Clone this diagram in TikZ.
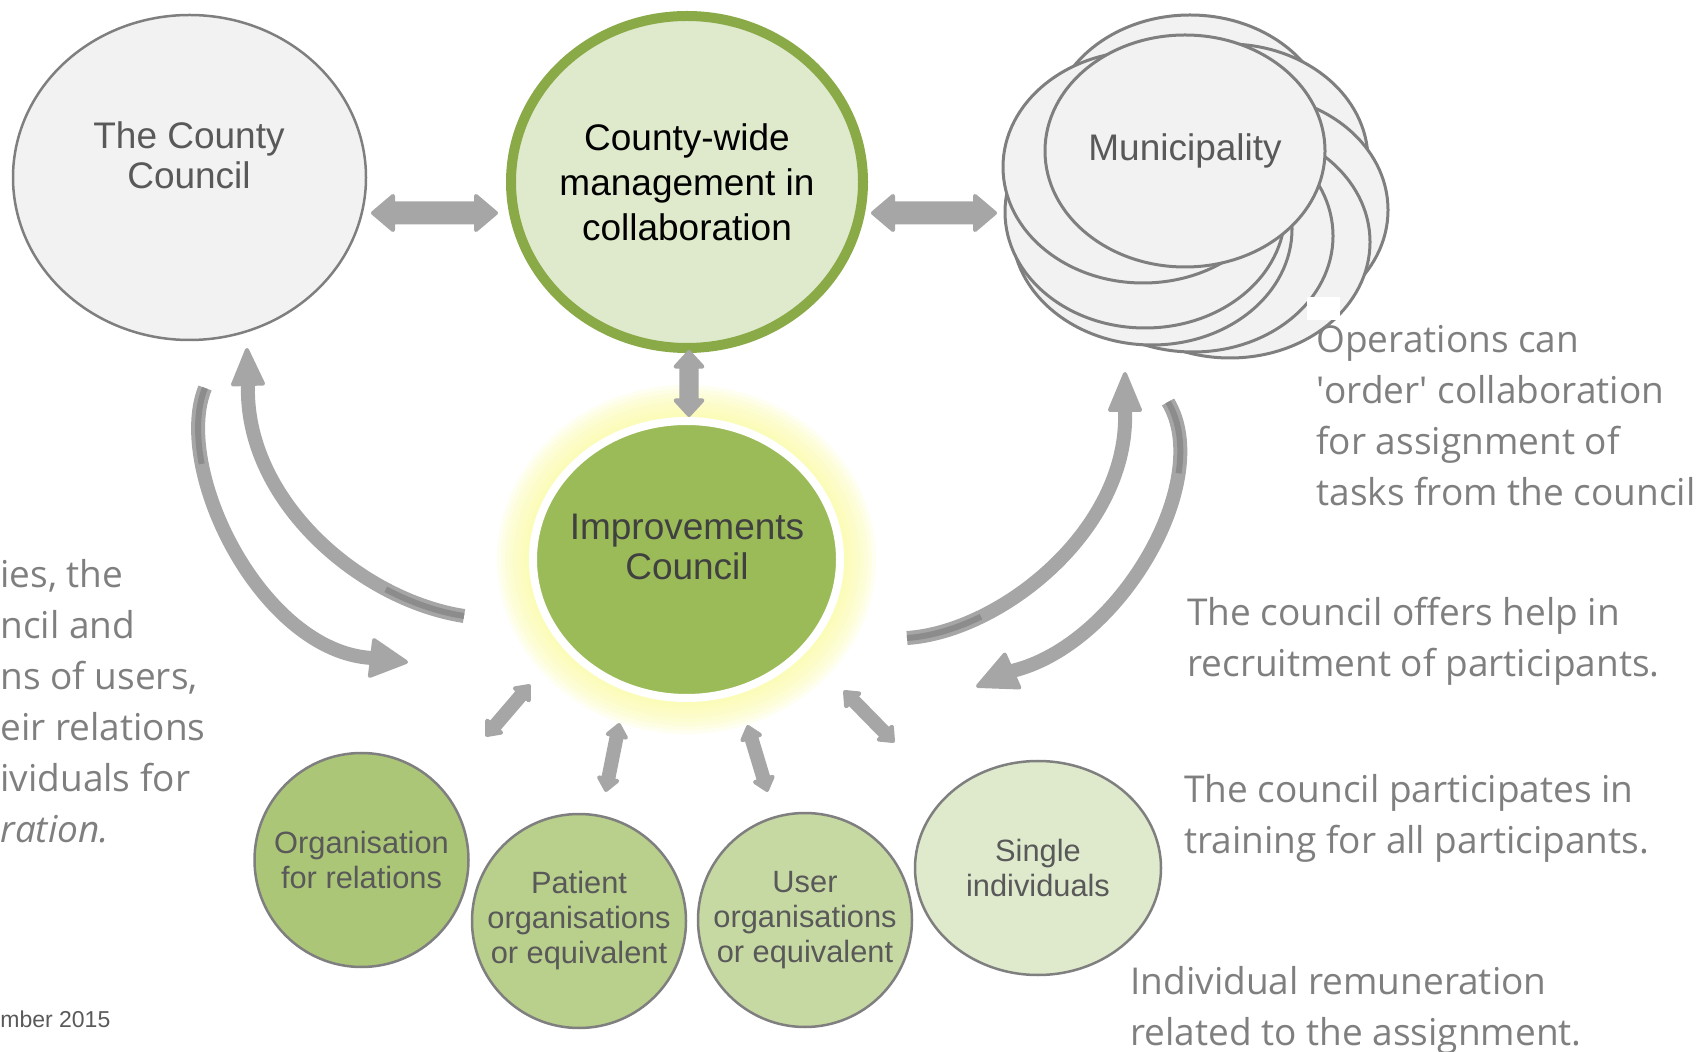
\documentclass[tikz,border=0pt]{standalone}
\usepackage{fontspec}
\setmainfont{Liberation Sans}
\newfontfamily\notefont{Open Sans}
\usetikzlibrary{calc,shapes.geometric}

\definecolor{arrowgray}{RGB}{166,166,166}
\definecolor{arrowdark}{RGB}{140,140,140}
\definecolor{bodygray}{RGB}{242,242,242}
\definecolor{linegray}{RGB}{127,127,127}
\definecolor{labelgray}{RGB}{89,89,89}
\definecolor{notegray}{RGB}{127,127,127}
\definecolor{imprtextcol}{RGB}{64,64,64}
\definecolor{mgmtfill}{RGB}{223,234,205}
\definecolor{mgmtline}{RGB}{138,170,72}
\definecolor{imprfill}{RGB}{155,187,89}
\definecolor{glowcol}{RGB}{250,250,160}
\definecolor{orgfill}{RGB}{172,198,120}
\definecolor{patfill}{RGB}{185,207,140}
\definecolor{userfill}{RGB}{199,217,163}
\definecolor{singlefill}{RGB}{223,234,205}

\tikzset{
  body/.style={ellipse, draw=linegray, line width=1.25pt, fill=bodygray, inner sep=0pt},
  cloudpart/.style={draw=linegray, line width=1.5pt, fill=bodygray},
  bigtext/.style={inner sep=0pt, align=center, text=labelgray, font=\fontsize{18.5}{20}\selectfont},
  smallcirc/.style={draw=linegray, line width=1.25pt, inner sep=0pt, align=center, text=labelgray, font=\fontsize{15.4}{17.5}\selectfont},
  note/.style={inner sep=0pt, align=left, text=notegray, font=\notefont\fontsize{18.5}{25.5}\selectfont},
  blockarrow/.style={fill=arrowgray, draw=arrowgray, line width=2pt, line join=round},
  bendarrow/.style={draw=arrowgray, line width=7pt},
  bendback/.style={draw=arrowdark, line width=3pt},
}

% double block arrow: ends, head length, shaft half width, head half width
\newcommand{\dblarrow}[5]{%
  \filldraw[blockarrow] (#1) -- ($(#1)!#3!(#2)!#5!90:(#2)$) -- ($(#1)!#3!(#2)!#4!90:(#2)$)
    -- ($(#2)!#3!(#1)!#4!-90:(#1)$) -- ($(#2)!#3!(#1)!#5!-90:(#1)$) -- (#2)
    -- ($(#2)!#3!(#1)!#5!90:(#1)$) -- ($(#2)!#3!(#1)!#4!90:(#1)$)
    -- ($(#1)!#3!(#2)!#4!-90:(#2)$) -- ($(#1)!#3!(#2)!#5!-90:(#2)$) -- cycle;}
% head of a bent arrow: base centre, tip, half width
\newcommand{\bendhead}[3]{%
  \filldraw[blockarrow] ($(#1)!#3!90:(#2)$) -- (#2) -- ($(#1)!#3!-90:(#2)$) -- cycle;}

\begin{document}
\begin{tikzpicture}[x=0.5pt,y=0.5pt,yscale=-1,xscale=1]
\useasboundingbox (0,0) rectangle (1697,1052);

%County council
\node[body, minimum width=176.5pt, minimum height=162.5pt] (county) at (189.5,177.5) {};
\node[bigtext] (countytext) at (189,155) {The County\\Council};

%Management
\node[ellipse, draw=mgmtline, line width=5pt, fill=mgmtfill, inner sep=0pt, minimum width=176pt, minimum height=166pt] (mgmt) at (687,182) {};
\node[bigtext, text=black, font=\fontsize{18.5}{22.5}\selectfont] (mgmttext) at (687,182) {County-wide\\management in\\collaboration};

%Municipality, stacked ellipses
\foreach \cx/\cy in {1190/131, 1228/160, 1248/210, 1230/242, 1193/236, 1152/229, 1145/212, 1143/167}
  \draw[cloudpart] (\cx,\cy) ellipse (140 and 116);
\node[body, line width=1.5pt, minimum width=140pt, minimum height=116pt, text=labelgray, font=\fontsize{18.5}{20}\selectfont] (muni) at (1185,151) {Municipality};

%Improvements council with glow
\coordinate (imprc) at (686.5,559.5);
\foreach \g in {1,...,8}
  \fill[glowcol, opacity=0.15] (imprc) ellipse ({157.5+4*\g} and {142.5+4*\g});
\node[ellipse, draw=white, line width=4pt, fill=imprfill, inner sep=0pt, minimum width=153.5pt, minimum height=138.5pt] (impr) at (imprc) {};
\node[bigtext, text=imprtextcol] (imprtext) at (687,547) {Improvements\\Council};

%Bottom groups
\node[smallcirc, circle, fill=orgfill, minimum size=107pt] (org) at (361.5,860) {Organisation\\for relations};
\node[smallcirc, circle, fill=patfill, minimum size=107pt] (patient) at (579,921) {Patient\\organisations\\or equivalent};
\node[smallcirc, circle, fill=userfill, minimum size=107pt] (user) at (805,920) {User\\organisations\\or equivalent};
\node[smallcirc, ellipse, fill=singlefill, minimum width=123pt, minimum height=107pt] (single) at (1038,868) {Single\\individuals};

%Straight arrows
\coordinate (hl1) at (373,213); \coordinate (hl2) at (496,213);
\coordinate (hr1) at (873,213); \coordinate (hr2) at (995,213);
\coordinate (v1) at (689,352); \coordinate (v2) at (689,415);
\dblarrow{hl1}{hl2}{10pt}{4.75pt}{8.5pt}
\dblarrow{hr1}{hr2}{10pt}{4.75pt}{8.5pt}
\dblarrow{v1}{v2}{7.3pt}{3.8pt}{6.7pt}

\coordinate (s1a) at (487,735); \coordinate (s1b) at (529,686);
\coordinate (s2a) at (606,790); \coordinate (s2b) at (619,725);
\coordinate (s3a) at (748,727); \coordinate (s3b) at (767,790);
\coordinate (s4a) at (845,692); \coordinate (s4b) at (893,741);
\dblarrow{s1a}{s1b}{5.5pt}{2.5pt}{4.6pt}
\dblarrow{s2a}{s2b}{5.5pt}{2.5pt}{4.6pt}
\dblarrow{s3a}{s3b}{5.5pt}{2.5pt}{4.6pt}
\dblarrow{s4a}{s4b}{5.5pt}{2.5pt}{4.6pt}

%Bent arrows, left
\coordinate (lo0) at (205,388); \coordinate (lo1) at (372,658); \coordinate (lo2) at (406,662);
\draw[bendarrow] (lo0) .. controls (172,470) and (262,652) .. (lo1);
\draw[bendback] (lo0) .. controls (196.75,408.5) and (196.2,435.25) .. (201.7,463.9);
\bendhead{lo1}{lo2}{9pt}
\coordinate (li0) at (464,616); \coordinate (li1) at (248,384); \coordinate (li2) at (247,350);
\draw[bendarrow] (li0) .. controls (360,600) and (244,500) .. (li1);
\draw[bendback] (li0) .. controls (438,612) and (411.25,602.75) .. (385.8,589.3);
\bendhead{li1}{li2}{7.5pt}

%Bent arrows, right
\coordinate (ro0) at (1168,402); \coordinate (ro1) at (1012,671); \coordinate (ro2) at (978,686);
\draw[bendarrow] (ro0) .. controls (1215,480) and (1120,645) .. (ro1);
\draw[bendback] (ro0) .. controls (1179.75,421.5) and (1182.6,446.4) .. (1178.6,473.3);
\bendhead{ro1}{ro2}{9pt}
\coordinate (ri0) at (907,638); \coordinate (ri1) at (1125,410); \coordinate (ri2) at (1125,374);
\draw[bendarrow] (ri0) .. controls (1000,632) and (1130,530) .. (ri1);
\draw[bendback] (ri0) .. controls (930.25,636.5) and (955.8,629) .. (981,616.7);
\bendhead{ri1}{ri2}{7.5pt}

%Notes
\fill[white] (1307,297) rectangle (1340,320);
\node[note, anchor=base west] (opsnote) at (1316,506) {Operations can\\\textquotesingle order\textquotesingle{} collaboration\\for assignment of\\tasks from the council};
\node[note, anchor=base west] (recruitnote) at (1187,677) {The council offers help in\\recruitment of participants.};
\node[note, anchor=base west] (trainnote) at (1184,853) {The council participates in\\training for all participants.};
\node[note, anchor=base west] (paynote) at (1130,1045) {Individual remuneration\\related to the assignment.};
\node[note, anchor=base west] (leftnote) at (0,842) {ies, the\\ncil and\\ns of users,\\eir relations\\ividuals for\\\textit{ration.}};
\node[inner sep=0pt, anchor=base west, text=labelgray, font=\fontsize{11.5}{13}\selectfont] (datenote) at (0,1027) {mber 2015};

\end{tikzpicture}
\end{document}
